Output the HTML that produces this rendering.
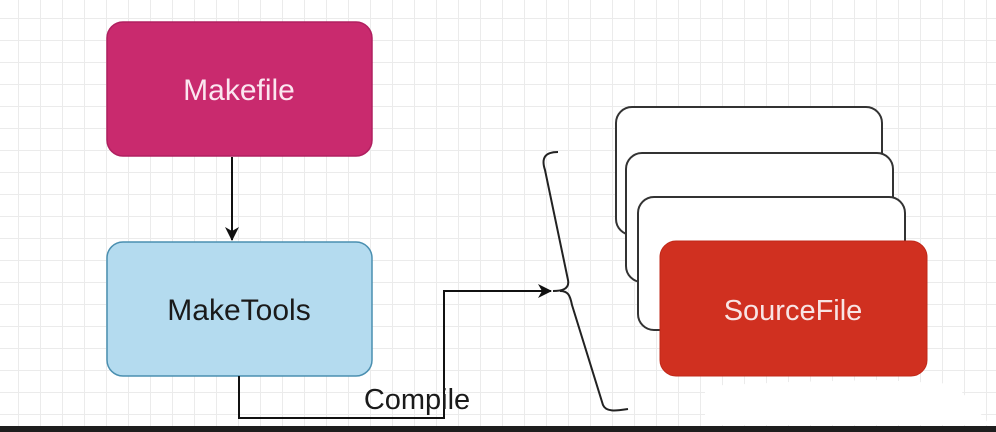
<!DOCTYPE html>
<html><head><meta charset="utf-8"><style>
html,body{margin:0;padding:0;}
body{width:996px;height:432px;overflow:hidden;background:#fff;position:relative;
background-image:linear-gradient(#ebebeb 1px,transparent 1px),linear-gradient(90deg,#ebebeb 1px,transparent 1px);
background-size:22px 22px;background-position:18px 18px;font-family:"Liberation Sans",sans-serif;}
</style></head><body>
<svg width="996" height="432" style="position:absolute;left:0;top:0">
<defs>
<marker id="b" markerWidth="14" markerHeight="14" refX="13" refY="7" orient="auto" markerUnits="userSpaceOnUse"><path d="M0,0 L14,7 L0,14 L4,7 Z" fill="#111"/></marker></defs>
<rect x="107" y="22" width="265" height="134" rx="16" fill="#c92a6e" stroke="#b02060" stroke-width="1.5"/>
<text x="239" y="100" font-size="30" fill="#fbe6f0" text-anchor="middle">Makefile</text>
<line x1="232" y1="157" x2="232" y2="240" stroke="#111" stroke-width="2" marker-end="url(#b)"/>
<rect x="107" y="242" width="265" height="134" rx="16" fill="#b4dbef" stroke="#4a8fb0" stroke-width="1.5"/>
<text x="239" y="320" font-size="30" fill="#1a1a1a" text-anchor="middle">MakeTools</text>
<polyline points="239,376 239,418 444,418 444,291 551,291" fill="none" stroke="#111" stroke-width="2" marker-end="url(#b)"/>
<text x="417" y="409" font-size="29" fill="#1a1a1a" text-anchor="middle">Compile</text>
<path d="M558,152 C545,152 541,158 545,170 L568,280 C570,290 560,291 553,291 M560,291 C568,291 570,295 572,305 L603,405 C606,412 615,411 628,409" fill="none" stroke="#222" stroke-width="2"/>
<rect x="616" y="107" width="266" height="128" rx="16" fill="#fff" stroke="#333" stroke-width="2"/>
<rect x="626" y="153" width="267" height="129" rx="16" fill="#fff" stroke="#333" stroke-width="2"/>
<rect x="638" y="197" width="267" height="133" rx="16" fill="#fff" stroke="#333" stroke-width="2"/>
<rect x="660" y="241" width="267" height="135" rx="16" fill="#d03020" stroke="#c02818" stroke-width="1"/>
<text x="793" y="320" font-size="29" fill="#f8e4e4" text-anchor="middle">SourceFile</text>
<path d="M705,386 L790,382 L880,380 L955,384 L990,425 L705,425 Z" fill="#fff"/>
<rect x="0" y="426" width="996" height="6" fill="#1e1e1e"/>
</svg>
</body></html>
